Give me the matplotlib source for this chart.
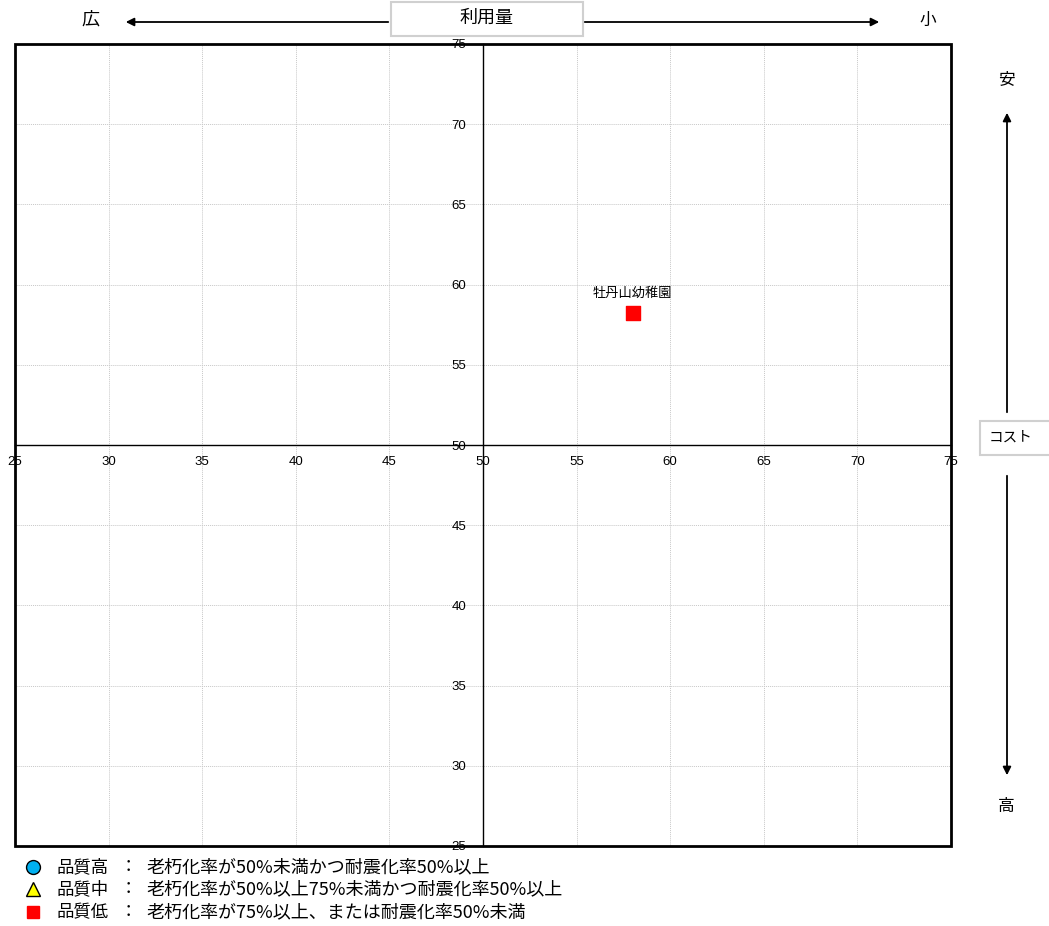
import matplotlib.pyplot as plt
from matplotlib.patches import Rectangle

plt.rcParams['font.family'] = ['Liberation Sans', 'Noto Sans CJK JP']
JP = ['Noto Sans CJK JP', 'Liberation Sans']

# data
names = ["牡丹山幼稚園"]
usage = [58.0]     # x: 利用量
cost = [58.2]      # y: コスト
quality = ["低"]

ticks = [25, 30, 35, 40, 45, 50, 55, 60, 65, 70, 75]
legend_names = ["品質高", "品質中", "品質低"]
legend_desc = ["老朽化率が50%未満かつ耐震化率50%以上",
               "老朽化率が50%以上75%未満かつ耐震化率50%以上",
               "老朽化率が75%以上、または耐震化率50%未満"]
styles = {"高": dict(marker="o", color="#00b0f0"),
          "中": dict(marker="^", color="#ffff00"),
          "低": dict(marker="s", color="#ff0000")}

W, H = 1049, 926
fig = plt.figure(figsize=(W / 100, H / 100), dpi=100)
ax = fig.add_axes([15 / W, 1 - 846 / H, 936 / W, 802 / H])
ax.set_xlim(25, 75)
ax.set_ylim(25, 75)
ax.set_xticks(ticks)
ax.set_yticks(ticks)
ax.grid(True, color="#c8c8c8", linestyle=(0, (1, 1)), linewidth=0.7)

# center axes through (50, 50)
ax.spines['left'].set_position(('data', 50))
ax.spines['bottom'].set_position(('data', 50))
ax.spines['right'].set_visible(False)
ax.spines['top'].set_visible(False)
for s in ('left', 'bottom'):
    ax.spines[s].set_linewidth(1.0)
ax.tick_params(axis='both', length=0, labelsize=9.5)
ax.tick_params(axis='x', pad=8)
ax.tick_params(axis='y', pad=12)

# outer frame
ax.add_patch(Rectangle((0, 0), 1, 1, transform=ax.transAxes, fill=False,
                       edgecolor="black", linewidth=2, clip_on=False, zorder=5))

for n, x, y, q in zip(names, usage, cost, quality):
    st = styles[q]
    ax.scatter([x], [y], marker=st["marker"], s=100, color=st["color"],
               edgecolors=st["color"] if q == "低" else "black", zorder=6)
    ax.annotate(n, (x, y), xytext=(0, 10), textcoords="offset points",
                ha="center", va="bottom", fontsize=9.5, family=JP)

def fp(x, y):
    return (x / W, 1 - y / H)

def box(x0, y0, x1, y1):
    fig.add_artist(Rectangle(fp(x0, y1), (x1 - x0) / W, (y1 - y0) / H,
                             transform=fig.transFigure, facecolor="white",
                             edgecolor="#d0d0d0", linewidth=1.5))

arrow = dict(arrowstyle="-|>", color="black", lw=1.3, mutation_scale=12)
# 利用量 arrows
fig.add_artist(plt.Annotation("", xy=fp(123, 22), xytext=fp(391, 22),
                              xycoords="figure fraction", arrowprops=arrow))
fig.add_artist(plt.Annotation("", xy=fp(882, 22), xytext=fp(582, 22),
                              xycoords="figure fraction", arrowprops=arrow))
box(391, 2, 583, 36)
fig.text(*fp(487, 18), "利用量", ha="center", va="center", fontsize=13, family=JP)
fig.text(*fp(90, 20), "広", ha="center", va="center", fontsize=13, family=JP)
fig.text(*fp(928, 20), "小", ha="center", va="center", fontsize=12, family=JP)

# コスト arrows
fig.add_artist(plt.Annotation("", xy=fp(1007, 110), xytext=fp(1007, 415),
                              xycoords="figure fraction", arrowprops=arrow))
fig.add_artist(plt.Annotation("", xy=fp(1007, 778), xytext=fp(1007, 473),
                              xycoords="figure fraction", arrowprops=arrow))
box(980, 421, 1055, 455)
fig.text(*fp(1011, 438), "コスト", ha="center", va="center", fontsize=10.5, family=JP)
fig.text(*fp(1006, 80), "安", ha="center", va="center", fontsize=12, family=JP)
fig.text(*fp(1006, 807), "高", ha="center", va="center", fontsize=12, family=JP)

# legend
for i, (q, nm, d) in enumerate(zip(["高", "中", "低"], legend_names, legend_desc)):
    y = [867, 889, 912][i]
    st = styles[q]
    fig.add_artist(plt.Line2D([33 / W], [1 - y / H], marker=st["marker"],
                              markersize=10 if q != "低" else 9,
                              markerfacecolor=st["color"],
                              markeredgecolor=st["color"] if q == "低" else "black",
                              linestyle="none", transform=fig.transFigure))
    fig.text(*fp(57, y), nm, ha="left", va="center", fontsize=12.5, family=JP)
    fig.text(*fp(128, y), "：", ha="center", va="center", fontsize=12.5, family=JP)
    fig.text(*fp(146, y), d, ha="left", va="center", fontsize=13, family=JP)

fig.savefig("out.png", dpi=100)
